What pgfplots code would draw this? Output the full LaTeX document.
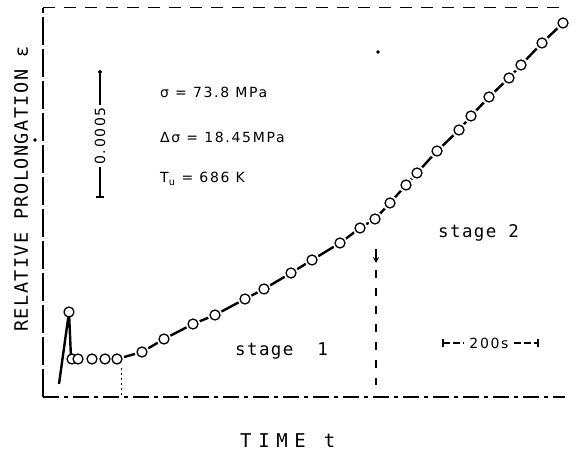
\documentclass[border=0pt]{standalone}
\usepackage{fontspec}
\setmainfont{DejaVu Sans}
\newfontfamily\annfont[LetterSpace=12]{DejaVu Sans}
\newfontfamily\labfont[LetterSpace=8]{DejaVu Sans Mono}
\newfontfamily\timefont[LetterSpace=35]{DejaVu Sans Mono}
\usepackage{pgfplots}
\pgfplotsset{compat=1.18}
\usetikzlibrary{arrows.meta}

% pixel coordinates of the scan, y measured upwards
\pgfplotstableread{
x y
117 96
142 103
164 116
193 131
215 140
245 156
264 166
291 182
312 195
340 212
360 227
375 236
390 252
406 270
417 282
437 304
459 325
471 339
489 358
509 377
521 390
542 412
563 432
}\curve

\pgfplotstableread{
x y
69 143
72 96
78 96
92 96
105 96
}\start

\begin{document}
\begin{tikzpicture}
\begin{axis}[scale only axis, width=522bp, height=389bp,
    xmin=43, xmax=565, ymin=58, ymax=447, hide axis, clip=false]
\coordinate (bl) at (axis cs:0,0);
\coordinate (tr) at (axis cs:580,455);
% frame, as broken in the scan
\addplot[black, line width=1.2bp, dash pattern=on 28bp off 4bp] coordinates {(43,58)(43,447)};
\addplot[black, line width=1.2bp, dash pattern=on 16bp off 5bp on 4bp off 5bp] coordinates {(43,58)(565,58)};
\addplot[black, line width=1bp, dash pattern=on 12bp off 9bp] coordinates {(43,447)(565,447)};
% stage markers
\addplot[black, line width=0.9bp, dash pattern=on 2bp off 3bp] coordinates {(121,87)(121,58)};
\addplot[black, line width=1.2bp, dash pattern=on 8bp off 10bp] coordinates {(376,185)(376,70)};
\addplot[black, line width=1.3bp, -{Stealth[length=6bp,width=6bp]}] coordinates {(376,206)(376,192)};
% initial spike
\addplot[black, line width=2.4bp] coordinates {(59,71)(69,143)(71,97)};
% creep curve
\addplot[black, line width=2.4bp] table {\curve};
\addplot[only marks, mark=*, mark size=5bp, mark options={draw=white, fill=white, line width=5bp}] table {\curve};
\addplot[only marks, mark=*, mark size=5bp, mark options={draw=black, fill=white, line width=1.3bp}] table {\curve};
\addplot[only marks, mark=*, mark size=5bp, mark options={draw=black, fill=white, line width=1.3bp}] table {\start};
% strain scale bar
\addplot[black, line width=1.3bp] coordinates {(100,383)(100,258)};
\addplot[black, line width=1.3bp] coordinates {(96,258)(104,258)};
\addplot[only marks, mark=*, mark size=1.8bp, black] coordinates {(100,383)};
\node[rotate=90, fill=white, inner sep=2bp, font=\annfont\fontsize{14bp}{16bp}\selectfont] at (axis cs:100,319) {0.0005};
% time scale bar
\addplot[black, line width=1.1bp, dash pattern=on 7bp off 3bp] coordinates {(443,112)(464,112)};
\addplot[black, line width=1.1bp, dash pattern=on 7bp off 3bp] coordinates {(514,112)(538,112)};
\addplot[black, line width=1.2bp] coordinates {(443,108)(443,116)};
\addplot[black, line width=1.2bp] coordinates {(538,108)(538,116)};
\node[font=\annfont\fontsize{14bp}{16bp}\selectfont] at (axis cs:489,112) {200s};
% scan specks
\addplot[only marks, mark=*, mark size=1.5bp, black] coordinates {(378,403)(35,315)};
% test conditions
\node[anchor=base west, inner sep=0pt, font=\annfont\fontsize{14bp}{16bp}\selectfont] at (axis cs:160,357) {σ = 73.8 MPa};
\node[anchor=base west, inner sep=0pt, font=\annfont\fontsize{14bp}{16bp}\selectfont] at (axis cs:160,312) {Δσ = 18.45MPa};
\node[anchor=base west, inner sep=0pt, font=\annfont\fontsize{14bp}{16bp}\selectfont] at (axis cs:160,272) {T\textsubscript{u} = 686 K};
% stages
\node[anchor=base west, inner sep=0pt, font=\labfont\fontsize{17.5bp}{20bp}\selectfont] at (axis cs:235,99) {stage~~1};
\node[anchor=base west, inner sep=0pt, font=\labfont\fontsize{17.5bp}{20bp}\selectfont] at (axis cs:438,217) {stage~2};
% axis titles
\node[anchor=base west, inner sep=0pt, rotate=90, font=\labfont\fontsize{18.5bp}{20bp}\selectfont] at (axis cs:28,123) {RELATIVE PROLONGATION ε};
\node[anchor=base west, inner sep=0pt, font=\timefont\fontsize{19bp}{20bp}\selectfont] at (axis cs:240,8) {TIME t};
\end{axis}
\path (bl) rectangle (tr);
\end{tikzpicture}
\end{document}
